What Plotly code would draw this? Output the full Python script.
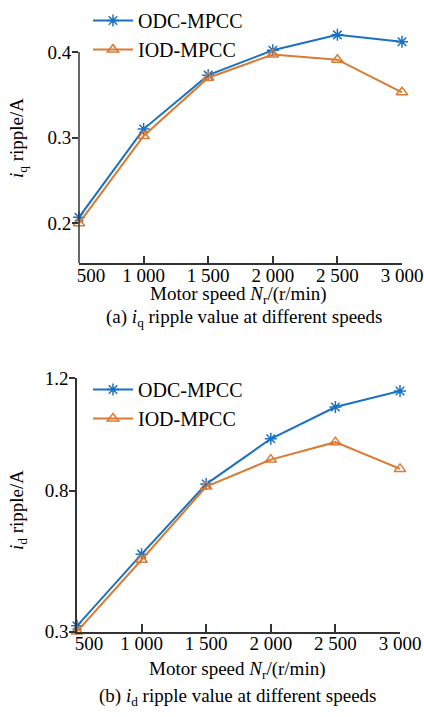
import plotly.graph_objects as go

speeds = [500, 1000, 1500, 2000, 2500, 3000]
# the first label sits slightly right of its tick in the reference
speed_labels = ["\u00a0\u00a0\u00a0\u00a0\u00a0500", "1 000", "1 500", "2 000", "2 500", "3 000"]

iq_odc = [0.207, 0.310, 0.373, 0.402, 0.420, 0.412]
iq_iod = [0.200, 0.302, 0.370, 0.397, 0.391, 0.353]

id_odc = [0.320, 0.575, 0.824, 0.985, 1.098, 1.155]
id_iod = [0.300, 0.555, 0.815, 0.911, 0.973, 0.878]

iq_ticks = [0.2, 0.3, 0.4]
id_ticks = [0.3, 0.8, 1.2]

BLUE = "#1A71C2"
ORANGE = "#D97A35"
AXC = "#333333"
FONT = "Liberation Serif"
W, H = 424, 717

fig = go.Figure()

def add(x, y, name, color, symbol, xa, ya, legend):
    fig.add_trace(go.Scatter(
        x=x, y=y, name=name, mode="lines+markers",
        line=dict(color=color, width=2),
        marker=dict(symbol=symbol, size=10, color=color,
                    line=dict(color=color, width=1.5)),
        xaxis=xa, yaxis=ya, legend=legend, legendgroup=name + legend,
        cliponaxis=False))

add(speeds, iq_odc, "ODC-MPCC", BLUE, "asterisk-open", "x", "y", "legend")
add(speeds, iq_iod, "IOD-MPCC", ORANGE, "triangle-up-open", "x", "y", "legend")
add(speeds, id_odc, "ODC-MPCC", BLUE, "asterisk-open", "x2", "y2", "legend2")
add(speeds, id_iod, "IOD-MPCC", ORANGE, "triangle-up-open", "x2", "y2", "legend2")

def px(v):
    return v / W

def py(v):
    return 1 - v / H

axis_common = dict(showgrid=False, zeroline=False, mirror=False,
                   tickfont=dict(family=FONT, size=19, color="black"),
                   tickcolor=AXC, tickwidth=1.5)

# top panel: 0.4 at y=52px, 0.2 at 223.3px, x-axis at 263.3px
ppu = (223.3 - 52) / 0.2
iq_lo = 0.2 - (263.3 - 223.3) / ppu
iq_hi = 0.4 + (52 - 20) / ppu

fig.update_layout(
    width=W, height=H, autosize=False,
    margin=dict(l=0, r=0, t=0, b=0, pad=0, autoexpand=False),
    paper_bgcolor="white", plot_bgcolor="white",
    font=dict(family=FONT, size=19, color="black"),
    xaxis=dict(domain=[px(79), px(402)], range=[500, 3000], anchor="y",
               tickvals=speeds, ticktext=speed_labels, ticks="inside", ticklen=8,
               ticklabelstandoff=-6,
               showline=True, linecolor=AXC, linewidth=1.5, **axis_common),
    yaxis=dict(domain=[py(263.3), py(20)], range=[iq_lo, iq_hi], anchor="x",
               tickvals=iq_ticks, ticks="outside", ticklen=6, tickformat=".1f",
               ticklabelstandoff=-3,
               showline=False, **axis_common),
    xaxis2=dict(domain=[px(77), px(400)], range=[500, 3000], anchor="y2",
                tickvals=speeds, ticktext=speed_labels, ticks="inside", ticklen=8,
                ticklabelstandoff=-6,
                showline=True, linecolor=AXC, linewidth=1.5, **axis_common),
    yaxis2=dict(domain=[py(631.5), py(378.3)], range=[0.3, 1.2], anchor="x2",
                tickvals=id_ticks, ticks="outside", ticklen=6, tickformat=".1f",
                ticklabelstandoff=-3,
                showline=True, linecolor=AXC, linewidth=1.5, **axis_common),
    legend=dict(x=px(88), y=py(1), xanchor="left", yanchor="top",
                bgcolor="rgba(0,0,0,0)", font=dict(family=FONT, size=20),
                tracegroupgap=0, itemwidth=40),
    legend2=dict(x=px(88), y=py(370), xanchor="left", yanchor="top",
                 bgcolor="rgba(0,0,0,0)", font=dict(family=FONT, size=20),
                 tracegroupgap=0, itemwidth=40),
)

# top y-axis line only up to the 0.4 tick
fig.add_shape(type="line", xref="x domain", yref="y", x0=0, x1=0,
              y0=iq_lo, y1=0.4, line=dict(color=AXC, width=1.5), layer="above")

ann = [
    dict(x=px(18), y=py(138), text="<i>i</i><sub>q</sub> ripple/A", textangle=-90),
    dict(x=px(238), y=py(295), text="Motor speed <i>N</i><sub>r</sub>/(r/min)"),
    dict(x=px(244), y=py(318), text="(a) <i>i</i><sub>q</sub> ripple value at different speeds"),
    dict(x=px(18), y=py(510), text="<i>i</i><sub>d</sub> ripple/A", textangle=-90),
    dict(x=px(237), y=py(670), text="Motor speed <i>N</i><sub>r</sub>/(r/min)"),
    dict(x=px(238), y=py(697), text="(b) <i>i</i><sub>d</sub> ripple value at different speeds"),
]
for a in ann:
    fig.add_annotation(xref="paper", yref="paper", showarrow=False,
                       xanchor="center", yanchor="middle",
                       font=dict(family=FONT, size=19, color="black"), **a)

fig.write_html("out.html",
               config={"displayModeBar": False},
               post_script="document.body.style.margin='0';"
                           "document.body.style.overflow='hidden';")
